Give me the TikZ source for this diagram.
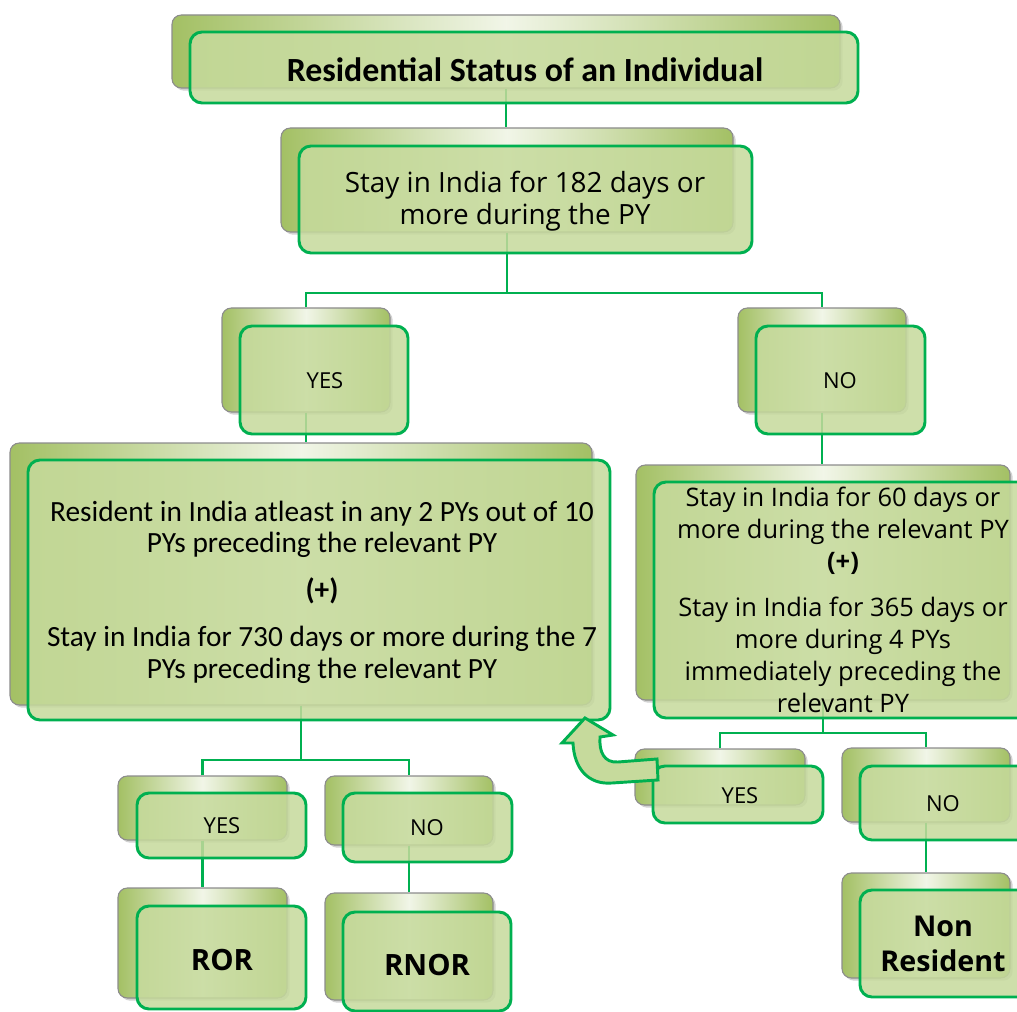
\documentclass[tikz,border=0pt]{standalone}
\usepackage{fontspec}
\setmainfont{Open Sans}
\newfontfamily\calfont{Carlito}
\usetikzlibrary{shadows,fit,calc}
\definecolor{gline}{HTML}{00B050}
\definecolor{ffill}{HTML}{C6DA9C}
\definecolor{bgreen}{HTML}{A3C064}
\definecolor{bgray}{HTML}{8C8C8C}
\begin{document}
\begin{tikzpicture}[x=0.75pt,y=-0.75pt,
  back/.style={draw=bgray, line width=0.8pt, rounded corners=7pt,
    left color=bgreen, right color=bgreen, middle color=white!85!bgreen,
    drop shadow={opacity=0.35,shadow xshift=2pt,shadow yshift=-2pt},
    inner sep=0pt},
  front/.style={draw=gline, line width=2.2pt, rounded corners=9pt,
    fill=ffill, fill opacity=0.85, inner sep=0pt},
  conn/.style={draw=gline, line width=2pt},
  txt/.style={align=center, inner sep=0pt, text=black},
  small/.style={txt, font=\fontsize{16.5}{20}\selectfont},
  big/.style={txt, font=\bfseries\fontsize{22}{26}\selectfont},
  barrow/.style={draw=gline, line width=2.2pt, fill=ffill, line join=miter}]
\useasboundingbox (0,0) rectangle (1017,1012);
\clip (0,0) rectangle (1017,1012);
\fill[white] (0,0) rectangle (1017,1012);

% back boxes
\node[back, fit={(172,15) (840,88)}] (tb) {};
\node[back, fit={(281,128) (733,232)}] (sb) {};
\node[back, fit={(222,308) (390,412)}] (yb) {};
\node[back, fit={(738,308) (906,412)}] (nb) {};
\node[back, fit={(10,443) (592,705)}] (lb) {};
\node[back, fit={(636,465) (1010,700)}] (rb) {};
\node[back, fit={(635,749) (805,805)}] (ryb) {};
\node[back, fit={(842,748) (1010,822)}] (rnb) {};
\node[back, fit={(842,873) (1010,978)}] (nrb) {};
\node[back, fit={(118,776) (287,840)}] (lyb) {};
\node[back, fit={(325,776) (493,845)}] (lnb) {};
\node[back, fit={(118,888) (287,998)}] (rorb) {};
\node[back, fit={(325,893) (493,1000)}] (rnorb) {};

% connectors
\coordinate (y293) at (0,293);
\coordinate (y733) at (0,733);
\coordinate (y760) at (0,760);
\draw[conn] (tb.south) -- (tb.south |- sb.north);
\coordinate (j1) at (sb.south |- y293);
\draw[conn] (sb.south) -- (j1);
\draw[conn] (yb.north) |- (j1) -| (nb.north);
\draw[conn] (yb.south) -- (yb.south |- lb.north);
\draw[conn] (nb.south) -- (nb.south |- rb.north);
\coordinate (j2) at (lb.south |- y760);
\draw[conn] (lb.south) -- (j2);
\draw[conn] (lyb.north) |- (j2) -| (lnb.north);
\coordinate (j3) at (rb.south |- y733);
\draw[conn] (rb.south) -- (j3);
\draw[conn] (ryb.north) |- (j3) -| (rnb.north);
\draw[conn] (lyb.south) -- (lyb.south |- rorb.north);
\draw[conn] (lnb.south) -- (lnb.south |- rnorb.north);
\draw[conn] (rnb.south) -- (rnb.south |- nrb.north);

% front boxes
\node[front, fit={(190,32) (858,103)}] (tf) {};
\node[front, fit={(299,146) (752,253)}] (sf) {};
\node[front, fit={(240,326) (408,434)}] (yf) {};
\node[front, fit={(756,326) (925,434)}] (nf) {};
\node[front, fit={(28,460) (610,720)}] (lf) {};
\node[front, fit={(654,482) (1030,718)}] (rf) {};
\node[front, fit={(653,766) (823,823)}] (ryf) {};
\node[front, fit={(860,766) (1030,840)}] (rnf) {};
\node[front, fit={(860,890) (1030,997)}] (nrf) {};
\node[front, fit={(137,793) (306,858)}] (lyf) {};
\node[front, fit={(343,793) (512,862)}] (lnf) {};
\node[front, fit={(137,906) (306,1009)}] (rorf) {};
\node[front, fit={(343,912) (511,1011)}] (rnorf) {};

% block arrow
\draw[barrow] (657,759) -- (618,762) .. controls (604,763) and (599,752) .. (600,737)
  -- (613,735) -- (585,718) -- (562,743) -- (573,743)
  .. controls (574,768) and (588,785) .. (612,783) -- (658,780) -- cycle;

% texts
\node[txt, font=\calfont\bfseries\fontsize{25.4}{30}\selectfont] (tt) at (525,70) {Residential Status of an Individual};
\node[txt, font=\fontsize{20.9}{24}\selectfont] (st) at (525,201) {Stay in India for 182 days or\\ more during the PY};
\node[small] (yt) at (325,381) {YES};
\node[small] (nt) at (840,381) {NO};
\node[txt, font=\calfont\fontsize{22}{24}\selectfont] (lt) at (322,592) {Resident in India atleast in any 2 PYs out of 10\\ PYs preceding the relevant PY\\[11pt]
  \textbf{(+)}\\[11pt]
  Stay in India for 730 days or more during the 7\\ PYs preceding the relevant PY};
\node[txt, font=\fontsize{19.1}{24}\selectfont] (rt) at (843,600) {Stay in India for 60 days or\\ more during the relevant PY\\ \textbf{(+)}\\[11pt]
  Stay in India for 365 days or\\ more during 4 PYs\\ immediately preceding the\\ relevant PY};
\node[small] (ryt) at (740,796) {YES};
\node[small] (rnt) at (943,804) {NO};
\node[big, font=\bfseries\fontsize{21.5}{26}\selectfont] (nrt) at (943,944) {Non\\ Resident};
\node[small] (lyt) at (222,826) {YES};
\node[small] (lnt) at (427,828) {NO};
\node[big] (rort) at (222,960) {ROR};
\node[big] (rnort) at (427,965) {RNOR};
\end{tikzpicture}
\end{document}
